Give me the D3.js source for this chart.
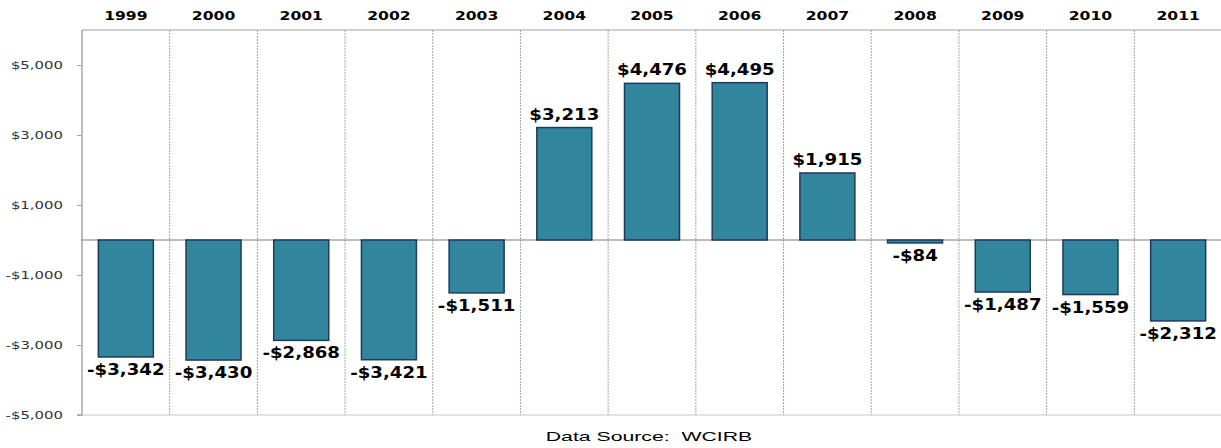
<!DOCTYPE html>
<html><head><meta charset="utf-8">
<script src="https://cdn.jsdelivr.net/npm/d3@7"></script>
<style>body{margin:0;background:#fff}</style>
</head><body>
<svg id="c" width="1221" height="448"></svg>
<script>
const years = ["1999","2000","2001","2002","2003","2004","2005","2006","2007","2008","2009","2010","2011"];
const values = [-3342,-3430,-2868,-3421,-1511,3213,4476,4495,1915,-84,-1487,-1559,-2312];
const tickValues = [-5000,-3000,-1000,1000,3000,5000];
const source = "Data Source:  WCIRB";

(function () {
const svg = d3.select("#c");
const pLeft = 82, pRight = 1222, pTop = 30, pBottom = 415;
const x = d3.scaleBand().domain(years).range([pLeft, pRight]).paddingInner(0).paddingOuter(0);
const y = d3.scaleLinear().domain([-5000, 6000]).range([pBottom, pTop]);
const fmt = v => (v < 0 ? "-$" : "$") + d3.format(",")(Math.abs(v));
const FONT = "DejaVu Sans, Verdana, sans-serif";

// bottom gridline
svg.append("line").attr("x1", pLeft).attr("x2", pRight).attr("y1", y(-5000)).attr("y2", y(-5000))
  .attr("stroke", "#d9d9d9").attr("stroke-width", 1.5);
// top line
svg.append("line").attr("x1", pLeft).attr("x2", pRight).attr("y1", pTop).attr("y2", pTop)
  .attr("stroke", "#bfbfbf").attr("stroke-width", 1.5);
// vertical dotted separators
svg.append("g").selectAll("line").data(years.slice(1)).join("line")
  .attr("x1", d => x(d)).attr("x2", d => x(d)).attr("y1", pTop).attr("y2", pBottom)
  .attr("stroke", "#a6a6a6").attr("stroke-width", 1).attr("stroke-dasharray", "2,1");

// y axis
const yAxis = d3.axisLeft(y).tickValues(tickValues).tickSize(5).tickPadding(14).tickFormat(fmt);
const ga = svg.append("g").attr("transform", `translate(${pLeft},0)`).call(yAxis);
ga.select(".domain").attr("stroke", "#a6a6a6").attr("stroke-width", 1.5).attr("d", `M-5,${y(-5000)}H0V${pTop}`);
ga.selectAll(".tick line").attr("stroke", "#a6a6a6");
ga.selectAll(".tick text")
  .attr("font-family", FONT).attr("font-size", 10.5).attr("fill", "#333")
  .attr("transform", "translate(-19,0) scale(1.42,1) translate(19,0)");

// zero line
svg.append("line").attr("x1", pLeft).attr("x2", pRight).attr("y1", y(0)).attr("y2", y(0))
  .attr("stroke", "#a6a6a6").attr("stroke-width", 1.5);

// bars
const bw = 55;
svg.append("g").selectAll("rect").data(values).join("rect")
  .attr("x", (d, i) => x(years[i]) + x.bandwidth() / 2 - bw / 2)
  .attr("width", bw)
  .attr("y", d => y(Math.max(0, d)))
  .attr("height", d => Math.abs(y(d) - y(0)))
  .attr("fill", "#31859c").attr("stroke", "#1f3a5f").attr("stroke-width", 1.5);

// value labels
svg.append("g").selectAll("text").data(values).join("text")
  .attr("transform", (d, i) => `translate(${x(years[i]) + x.bandwidth() / 2},${d >= 0 ? y(d) - 8 : y(d) + 18}) scale(1.1,1)`)
  .attr("text-anchor", "middle")
  .attr("font-family", FONT).attr("font-weight", "bold")
  .attr("font-size", 16.5).attr("fill", "#000")
  .text(fmt);

// year labels
svg.append("g").selectAll("text").data(years).join("text")
  .attr("transform", d => `translate(${x(d) + x.bandwidth() / 2},20) scale(1.3,1)`)
  .attr("text-anchor", "middle")
  .attr("font-family", FONT).attr("font-weight", "bold")
  .attr("font-size", 12).attr("fill", "#000")
  .text(d => d);

// source
svg.append("text").attr("transform", "translate(649,441) scale(1.7,1)").attr("text-anchor", "middle")
  .attr("font-family", "Liberation Sans, Arial, sans-serif").attr("font-size", 12.5).attr("fill", "#000")
  .style("white-space", "pre")
  .text(source);
})();
</script>
</body></html>
